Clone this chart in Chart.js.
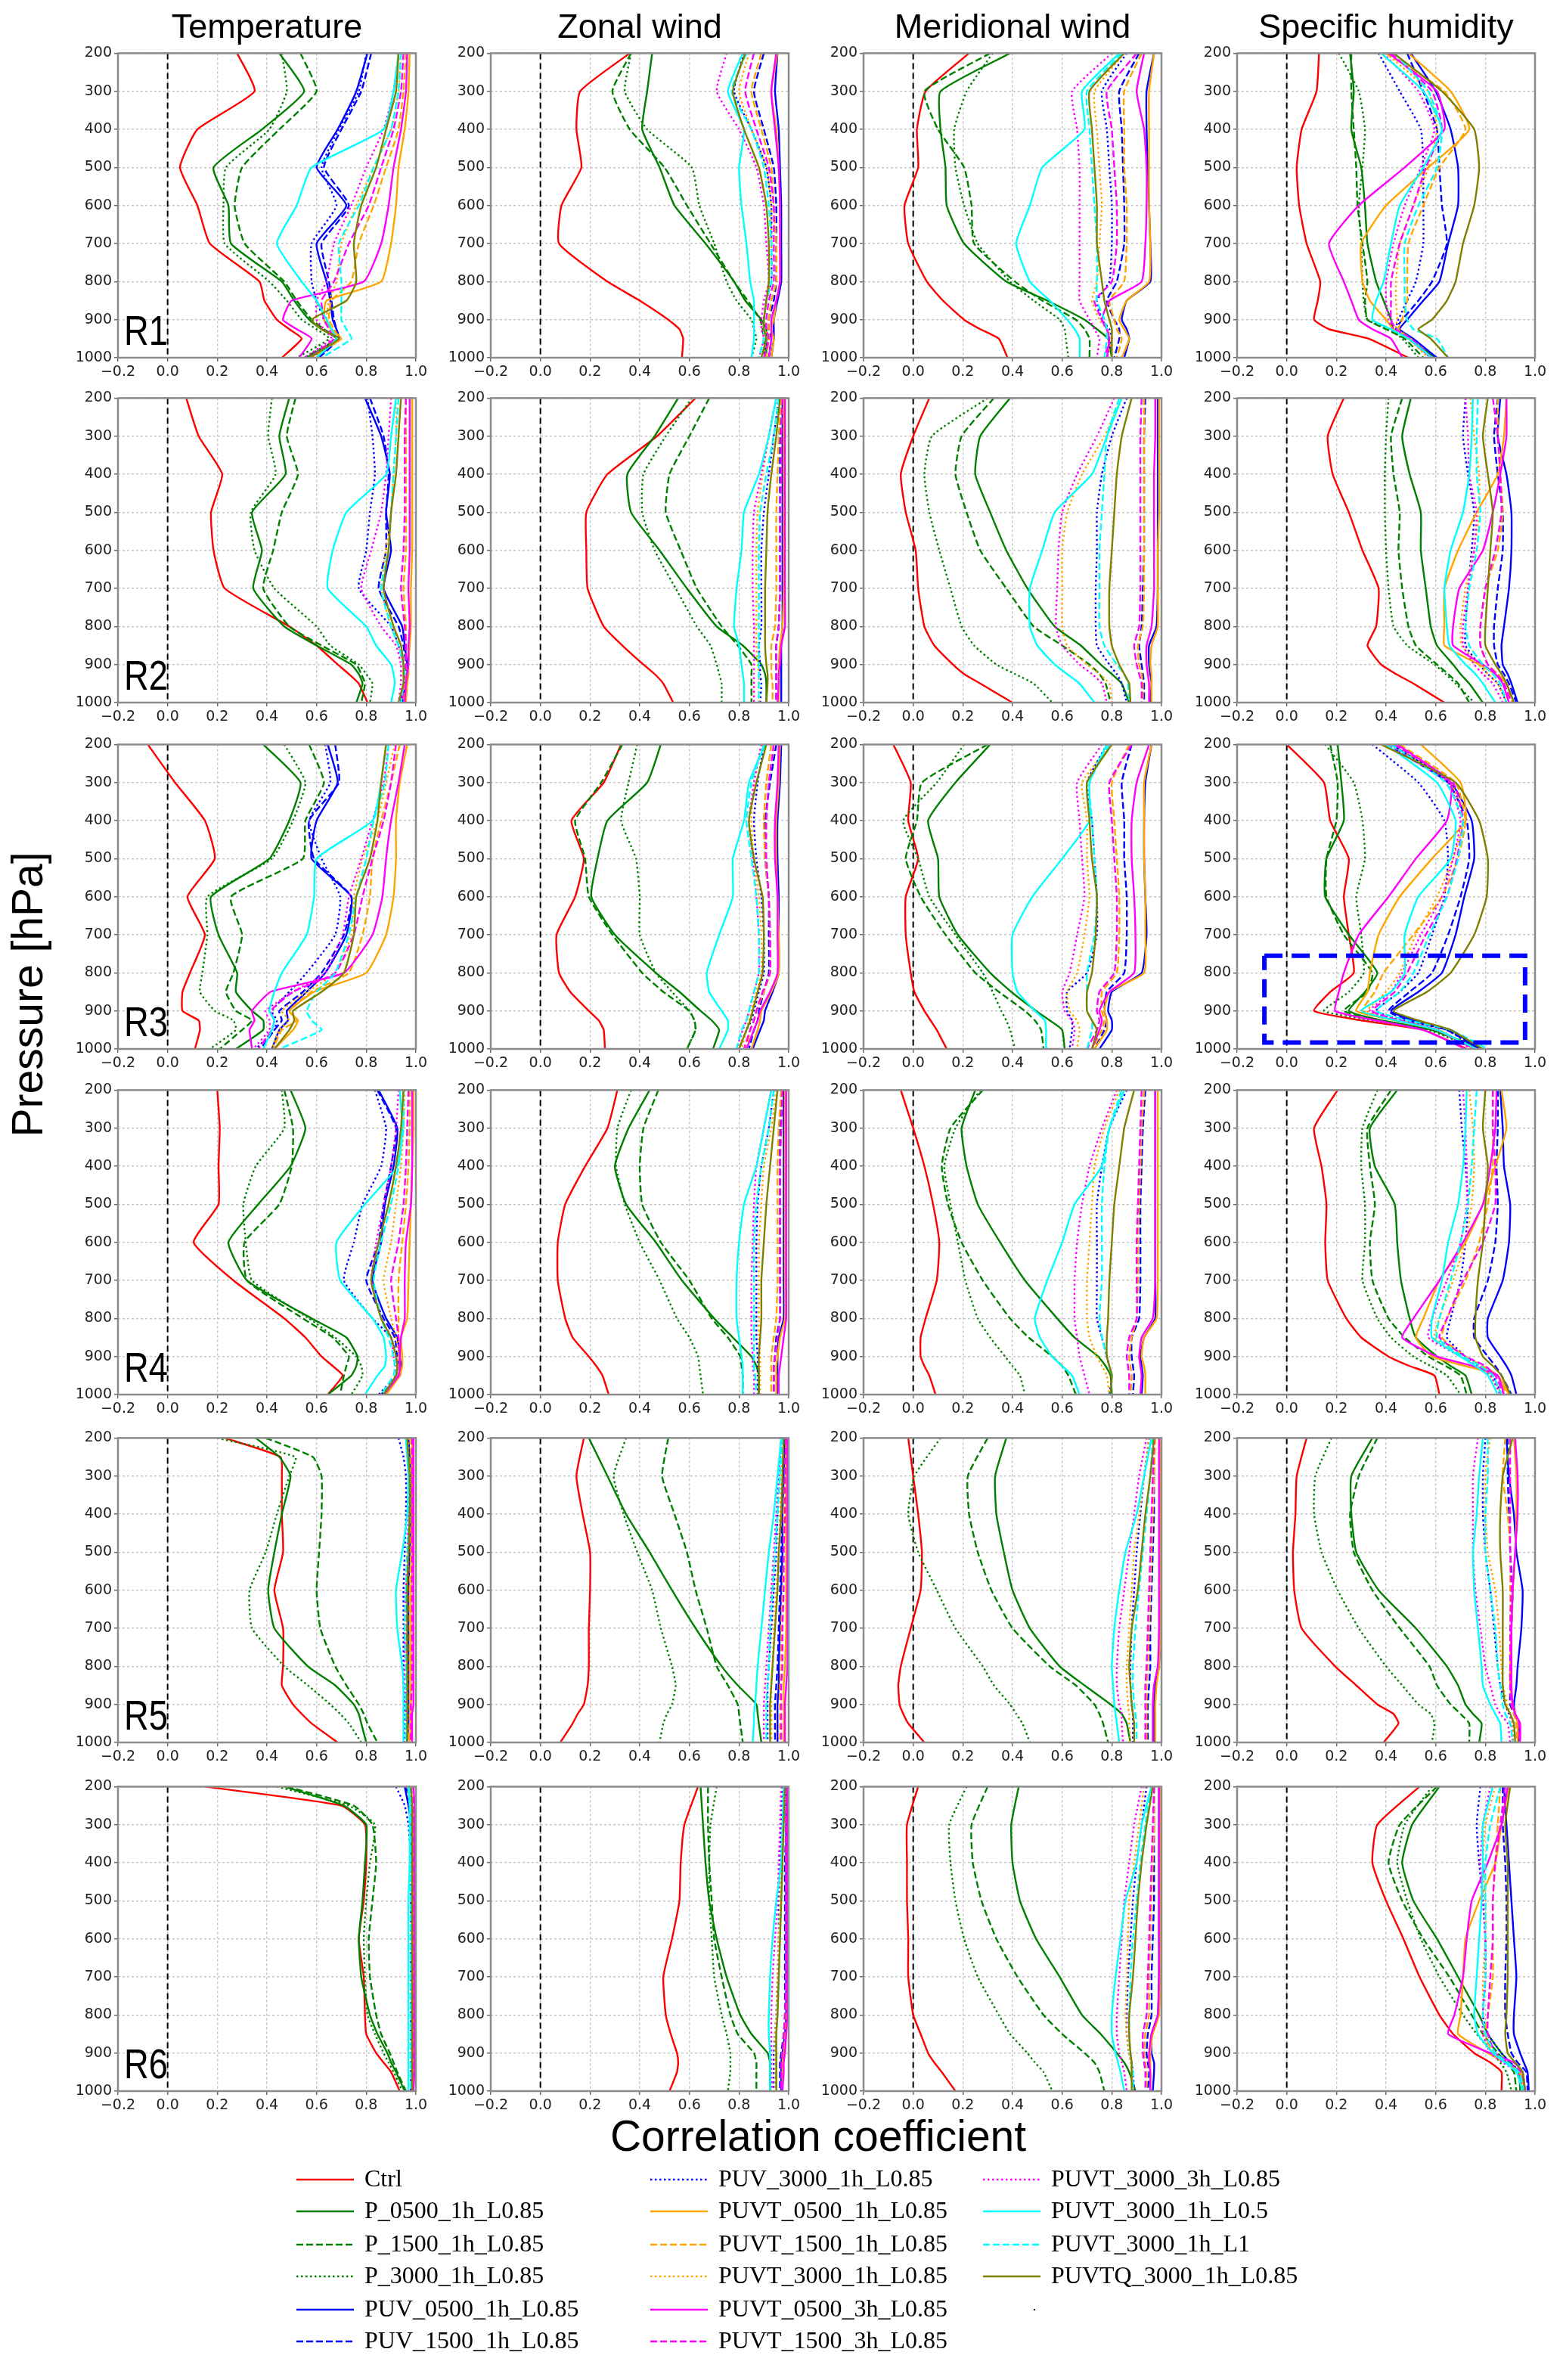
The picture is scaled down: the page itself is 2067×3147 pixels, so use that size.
<!DOCTYPE html>
<html><head><meta charset="utf-8">
<script src="https://cdn.jsdelivr.net/npm/chart.js@4.4.1/dist/chart.umd.min.js"></script>
<style>
html,body{margin:0;padding:0;background:#fff;}
#fig{position:relative;width:2067px;height:3147px;overflow:hidden;background:#fff;}
#fig canvas{position:absolute;}
</style></head><body><div id="fig"></div>
<script>
// ---------------- DATA ----------------
const levels = [200,300,400,500,600,700,800,850,900,925,950,1000];
const levelsWith250 = [200,250,300,400,500,600,700,800,850,900,925,950,1000];
const seriesNames = ['Ctrl','P_0500_1h_L0.85','P_1500_1h_L0.85','P_3000_1h_L0.85','PUV_0500_1h_L0.85','PUV_1500_1h_L0.85','PUV_3000_1h_L0.85','PUVT_0500_1h_L0.85','PUVT_1500_1h_L0.85','PUVT_3000_1h_L0.85','PUVT_0500_3h_L0.85','PUVT_1500_3h_L0.85','PUVT_3000_3h_L0.85','PUVT_3000_1h_L0.5','PUVT_3000_1h_L1','PUVTQ_3000_1h_L0.85'];
const variableTitles = ['Temperature','Zonal wind','Meridional wind','Specific humidity'];
const regionLabels = ['R1','R2','R3','R4','R5','R6'];
const xTickValues = [-0.2,0.0,0.2,0.4,0.6,0.8,1.0];
const yTickValues = [200,300,400,500,600,700,800,900,1000];
const zeroLineX = 0;
const zeroLineY = [200,1000];
const highlightBoxX = [-0.09,0.96,0.96,-0.09,-0.09];
const highlightBoxY = [755,755,983,983,755];

const R1_T = [
[0.28,0.35,0.12,0.05,0.12,0.17,0.37,0.39,0.44,0.49,0.54,0.46],
[0.45,0.55,0.38,0.185,0.245,0.255,0.46,0.51,0.57,0.62,0.68,0.56],
[0.535,0.6,0.45,0.30,0.27,0.31,0.47,0.52,0.58,0.63,0.68,0.55],
[0.46,0.48,0.41,0.235,0.225,0.23,0.41,0.48,0.54,0.6,0.65,0.52],
[0.805,0.76,0.685,0.6,0.72,0.6,0.64,0.655,0.665,0.68,0.69,0.6],
[0.82,0.78,0.7,0.63,0.73,0.62,0.65,0.66,0.67,0.68,0.69,0.61],
[0.8,0.77,0.69,0.62,0.68,0.58,0.58,0.6,0.63,0.66,0.68,0.58],
[0.975,0.97,0.955,0.93,0.92,0.9,0.86,0.64,0.63,0.66,0.7,0.57],
[0.96,0.95,0.93,0.88,0.83,0.77,0.74,0.66,0.65,0.67,0.69,0.58],
[0.94,0.93,0.9,0.83,0.76,0.7,0.68,0.65,0.64,0.66,0.68,0.57],
[0.965,0.96,0.94,0.91,0.89,0.86,0.79,0.5,0.465,0.52,0.58,0.53],
[0.95,0.94,0.91,0.86,0.81,0.73,0.67,0.62,0.63,0.65,0.67,0.57],
[0.93,0.91,0.87,0.8,0.74,0.67,0.64,0.6,0.6,0.63,0.66,0.55],
[0.93,0.91,0.87,0.58,0.52,0.44,0.54,0.6,0.64,0.66,0.68,0.6],
[0.94,0.93,0.9,0.83,0.77,0.69,0.7,0.7,0.7,0.72,0.74,0.62],
[0.93,0.92,0.88,0.84,0.78,0.75,0.76,0.72,0.58,0.62,0.69,0.57]];
const R1_U = [
[0.36,0.16,0.145,0.165,0.085,0.075,0.27,0.4,0.515,0.56,0.575,0.57],
[0.45,0.43,0.41,0.48,0.54,0.665,0.78,0.825,0.89,0.91,0.91,0.91],
[0.365,0.29,0.36,0.5,0.59,0.685,0.78,0.835,0.885,0.895,0.9,0.9],
[0.365,0.34,0.43,0.61,0.64,0.7,0.75,0.79,0.85,0.86,0.87,0.85],
[0.955,0.945,0.96,0.965,0.97,0.97,0.97,0.955,0.94,0.94,0.94,0.93],
[0.9,0.86,0.9,0.94,0.95,0.95,0.95,0.94,0.92,0.92,0.93,0.92],
[0.82,0.78,0.85,0.91,0.93,0.93,0.93,0.91,0.9,0.9,0.91,0.9],
[0.955,0.93,0.95,0.96,0.965,0.965,0.965,0.95,0.94,0.93,0.94,0.93],
[0.89,0.85,0.89,0.93,0.94,0.95,0.95,0.93,0.92,0.92,0.92,0.91],
[0.84,0.8,0.85,0.91,0.93,0.93,0.93,0.91,0.9,0.91,0.91,0.89],
[0.95,0.93,0.945,0.96,0.965,0.965,0.965,0.95,0.93,0.93,0.93,0.92],
[0.86,0.825,0.87,0.92,0.94,0.94,0.94,0.92,0.91,0.91,0.92,0.9],
[0.75,0.71,0.8,0.87,0.9,0.91,0.92,0.9,0.89,0.89,0.9,0.88],
[0.815,0.755,0.82,0.8,0.81,0.83,0.845,0.86,0.86,0.86,0.86,0.85],
[0.83,0.77,0.85,0.9,0.92,0.93,0.93,0.91,0.9,0.9,0.9,0.88],
[0.825,0.775,0.82,0.88,0.91,0.92,0.92,0.91,0.9,0.9,0.91,0.89]];
const R1_V = [
[0.225,0.05,0.015,0.02,-0.035,-0.02,0.055,0.12,0.205,0.27,0.345,0.38],
[0.39,0.11,0.11,0.13,0.135,0.205,0.375,0.54,0.69,0.74,0.785,0.8],
[0.31,0.045,0.1,0.205,0.235,0.245,0.41,0.52,0.655,0.69,0.71,0.71],
[0.32,0.215,0.165,0.17,0.205,0.26,0.39,0.485,0.59,0.61,0.615,0.625],
[0.97,0.94,0.94,0.945,0.95,0.955,0.955,0.86,0.84,0.86,0.87,0.85],
[0.91,0.83,0.84,0.845,0.85,0.85,0.82,0.78,0.81,0.83,0.83,0.81],
[0.86,0.76,0.78,0.79,0.8,0.8,0.79,0.74,0.76,0.79,0.8,0.78],
[0.97,0.95,0.95,0.95,0.95,0.955,0.95,0.86,0.83,0.85,0.87,0.84],
[0.92,0.85,0.85,0.85,0.86,0.86,0.85,0.79,0.81,0.82,0.84,0.82],
[0.85,0.73,0.74,0.75,0.76,0.75,0.74,0.72,0.75,0.78,0.8,0.78],
[0.93,0.9,0.93,0.94,0.94,0.935,0.92,0.79,0.76,0.78,0.79,0.78],
[0.9,0.78,0.8,0.81,0.82,0.82,0.8,0.73,0.76,0.78,0.79,0.77],
[0.8,0.64,0.66,0.67,0.67,0.67,0.67,0.67,0.71,0.73,0.75,0.74],
[0.83,0.68,0.69,0.52,0.47,0.415,0.47,0.55,0.62,0.65,0.67,0.67],
[0.84,0.7,0.71,0.72,0.73,0.74,0.74,0.74,0.77,0.78,0.78,0.77],
[0.85,0.71,0.72,0.73,0.74,0.74,0.76,0.77,0.79,0.8,0.8,0.8]];
const R1_Q = [
[0.13,0.12,0.06,0.04,0.05,0.08,0.135,0.125,0.11,0.17,0.33,0.49],
[0.255,0.27,0.26,0.3,0.315,0.325,0.36,0.39,0.42,0.43,0.49,0.6],
[0.26,0.26,0.27,0.28,0.285,0.305,0.325,0.315,0.325,0.4,0.475,0.55],
[0.21,0.29,0.315,0.305,0.29,0.3,0.305,0.31,0.325,0.41,0.465,0.53],
[0.5,0.6,0.66,0.69,0.69,0.65,0.615,0.55,0.485,0.455,0.51,0.605],
[0.485,0.55,0.605,0.615,0.625,0.645,0.585,0.53,0.465,0.44,0.5,0.585],
[0.37,0.455,0.54,0.55,0.55,0.55,0.52,0.485,0.45,0.44,0.5,0.58],
[0.49,0.66,0.735,0.57,0.4,0.3,0.305,0.335,0.4,0.43,0.49,0.585],
[0.4,0.635,0.72,0.615,0.55,0.49,0.485,0.485,0.465,0.45,0.5,0.585],
[0.4,0.57,0.605,0.57,0.51,0.455,0.44,0.44,0.445,0.44,0.49,0.57],
[0.41,0.605,0.635,0.475,0.29,0.17,0.23,0.26,0.29,0.345,0.42,0.465],
[0.42,0.585,0.625,0.56,0.51,0.455,0.42,0.42,0.42,0.44,0.5,0.585],
[0.39,0.53,0.595,0.54,0.475,0.43,0.4,0.4,0.41,0.43,0.49,0.58],
[0.38,0.55,0.625,0.55,0.455,0.42,0.39,0.36,0.345,0.42,0.49,0.585],
[0.435,0.57,0.625,0.605,0.53,0.475,0.475,0.475,0.485,0.51,0.605,0.65],
[0.43,0.625,0.755,0.775,0.755,0.71,0.68,0.645,0.585,0.53,0.58,0.65]];

const R2_T = [
[0.075,0.125,0.22,0.175,0.185,0.23,0.49,0.6,0.685,0.73,0.77,0.805],
[0.49,0.45,0.475,0.34,0.38,0.345,0.47,0.6,0.74,0.77,0.785,0.76],
[0.515,0.48,0.525,0.46,0.425,0.385,0.49,0.62,0.76,0.78,0.795,0.78],
[0.42,0.405,0.435,0.335,0.35,0.43,0.6,0.655,0.77,0.8,0.825,0.815],
[0.795,0.86,0.895,0.88,0.9,0.87,0.945,0.955,0.965,0.965,0.96,0.945],
[0.815,0.87,0.89,0.88,0.88,0.85,0.93,0.95,0.96,0.96,0.96,0.935],
[0.805,0.825,0.835,0.815,0.8,0.77,0.9,0.93,0.95,0.955,0.955,0.935],
[0.985,0.985,0.985,0.985,0.985,0.98,0.98,0.975,0.97,0.97,0.965,0.96],
[0.96,0.96,0.96,0.96,0.96,0.95,0.96,0.96,0.96,0.96,0.955,0.95],
[0.92,0.92,0.91,0.9,0.88,0.86,0.9,0.93,0.95,0.95,0.95,0.94],
[0.975,0.975,0.975,0.975,0.975,0.97,0.975,0.97,0.97,0.965,0.96,0.955],
[0.96,0.955,0.955,0.955,0.95,0.94,0.955,0.96,0.96,0.955,0.95,0.945],
[0.9,0.89,0.88,0.86,0.82,0.78,0.86,0.92,0.94,0.94,0.94,0.93],
[0.92,0.9,0.88,0.72,0.665,0.645,0.8,0.84,0.9,0.91,0.915,0.9],
[0.93,0.92,0.91,0.9,0.89,0.86,0.9,0.93,0.95,0.955,0.95,0.94],
[0.94,0.93,0.92,0.9,0.89,0.87,0.91,0.94,0.95,0.95,0.95,0.93]];
const R2_U = [
[0.625,0.47,0.27,0.185,0.185,0.19,0.255,0.33,0.415,0.46,0.495,0.535],
[0.555,0.46,0.35,0.365,0.48,0.59,0.71,0.815,0.89,0.905,0.91,0.91],
[0.68,0.6,0.52,0.505,0.565,0.63,0.73,0.795,0.85,0.85,0.85,0.85],
[0.61,0.505,0.415,0.41,0.46,0.545,0.63,0.685,0.71,0.72,0.73,0.73],
[0.975,0.975,0.975,0.975,0.975,0.975,0.975,0.97,0.97,0.97,0.97,0.97],
[0.97,0.965,0.965,0.965,0.965,0.965,0.96,0.95,0.95,0.95,0.95,0.95],
[0.96,0.94,0.92,0.9,0.89,0.89,0.89,0.88,0.885,0.885,0.89,0.885],
[0.98,0.98,0.98,0.98,0.98,0.98,0.975,0.965,0.96,0.96,0.96,0.96],
[0.97,0.96,0.955,0.95,0.95,0.95,0.945,0.93,0.93,0.93,0.935,0.935],
[0.95,0.92,0.895,0.875,0.87,0.87,0.87,0.87,0.875,0.88,0.88,0.88],
[0.985,0.985,0.985,0.985,0.985,0.985,0.985,0.97,0.965,0.96,0.96,0.955],
[0.975,0.97,0.97,0.965,0.965,0.965,0.96,0.95,0.95,0.95,0.95,0.95],
[0.95,0.92,0.89,0.86,0.855,0.855,0.86,0.86,0.86,0.86,0.86,0.86],
[0.95,0.92,0.88,0.82,0.81,0.79,0.78,0.8,0.81,0.815,0.82,0.82],
[0.96,0.94,0.91,0.885,0.88,0.88,0.88,0.88,0.88,0.88,0.88,0.88],
[0.965,0.95,0.93,0.915,0.91,0.905,0.905,0.905,0.91,0.915,0.915,0.91]];
const R2_V = [
[0.065,0.0,-0.05,-0.03,0.01,0.02,0.045,0.085,0.16,0.205,0.27,0.4],
[0.39,0.27,0.25,0.31,0.375,0.46,0.57,0.675,0.755,0.8,0.84,0.87],
[0.325,0.195,0.17,0.215,0.27,0.375,0.485,0.6,0.71,0.75,0.775,0.795],
[0.3,0.075,0.045,0.065,0.105,0.15,0.195,0.245,0.335,0.41,0.485,0.56],
[0.985,0.985,0.985,0.985,0.985,0.985,0.98,0.95,0.95,0.955,0.96,0.955],
[0.935,0.93,0.93,0.93,0.93,0.925,0.92,0.91,0.92,0.925,0.93,0.93],
[0.86,0.8,0.76,0.74,0.74,0.735,0.735,0.74,0.79,0.82,0.84,0.86],
[0.99,0.99,0.99,0.99,0.985,0.985,0.985,0.96,0.955,0.96,0.96,0.96],
[0.93,0.93,0.93,0.93,0.93,0.93,0.925,0.905,0.91,0.92,0.925,0.925],
[0.84,0.77,0.68,0.62,0.6,0.6,0.6,0.62,0.7,0.75,0.79,0.8],
[0.975,0.975,0.97,0.97,0.97,0.97,0.96,0.94,0.94,0.945,0.95,0.95],
[0.92,0.915,0.915,0.915,0.915,0.915,0.91,0.89,0.9,0.91,0.92,0.92],
[0.81,0.74,0.66,0.6,0.585,0.58,0.575,0.6,0.67,0.72,0.76,0.78],
[0.84,0.78,0.72,0.57,0.52,0.47,0.47,0.5,0.57,0.62,0.67,0.73],
[0.83,0.78,0.77,0.76,0.75,0.75,0.75,0.77,0.82,0.85,0.865,0.87],
[0.88,0.84,0.82,0.81,0.8,0.79,0.79,0.8,0.83,0.85,0.87,0.875]];
const R2_Q = [
[0.23,0.165,0.185,0.25,0.305,0.37,0.36,0.325,0.38,0.44,0.51,0.635],
[0.5,0.465,0.495,0.54,0.54,0.56,0.58,0.605,0.67,0.7,0.735,0.79],
[0.465,0.42,0.43,0.455,0.45,0.465,0.49,0.52,0.605,0.65,0.69,0.735],
[0.41,0.4,0.395,0.395,0.4,0.41,0.43,0.485,0.595,0.64,0.68,0.755],
[0.86,0.85,0.885,0.905,0.905,0.895,0.875,0.865,0.87,0.89,0.905,0.93],
[0.85,0.835,0.85,0.87,0.87,0.85,0.835,0.835,0.85,0.875,0.895,0.925],
[0.72,0.71,0.73,0.755,0.745,0.73,0.72,0.72,0.775,0.81,0.85,0.885],
[0.885,0.875,0.85,0.765,0.69,0.635,0.635,0.635,0.775,0.84,0.885,0.915],
[0.85,0.85,0.86,0.87,0.85,0.8,0.78,0.78,0.81,0.85,0.885,0.91],
[0.74,0.755,0.775,0.775,0.755,0.72,0.7,0.705,0.775,0.81,0.85,0.885],
[0.885,0.885,0.86,0.83,0.79,0.695,0.67,0.67,0.79,0.84,0.87,0.895],
[0.83,0.85,0.86,0.865,0.84,0.8,0.78,0.78,0.81,0.845,0.875,0.905],
[0.72,0.73,0.735,0.765,0.755,0.73,0.71,0.71,0.755,0.79,0.83,0.87],
[0.75,0.745,0.735,0.71,0.66,0.635,0.645,0.655,0.72,0.76,0.79,0.84],
[0.77,0.765,0.765,0.78,0.765,0.735,0.72,0.735,0.79,0.83,0.86,0.885],
[0.81,0.79,0.81,0.83,0.82,0.81,0.8,0.8,0.84,0.865,0.885,0.915]];

const R3_T = [
[-0.08,0.03,0.15,0.19,0.08,0.15,0.09,0.06,0.06,0.125,0.13,0.11],
[0.385,0.535,0.49,0.41,0.175,0.205,0.28,0.275,0.34,0.385,0.385,0.275],
[0.57,0.63,0.555,0.545,0.255,0.3,0.265,0.235,0.275,0.34,0.3,0.21],
[0.47,0.555,0.505,0.42,0.16,0.16,0.14,0.13,0.19,0.265,0.275,0.17],
[0.645,0.685,0.6,0.58,0.74,0.72,0.635,0.56,0.48,0.485,0.45,0.42],
[0.675,0.69,0.57,0.59,0.74,0.71,0.62,0.545,0.45,0.46,0.43,0.375],
[0.635,0.655,0.57,0.62,0.695,0.675,0.56,0.49,0.42,0.44,0.43,0.355],
[0.965,0.935,0.92,0.92,0.91,0.88,0.8,0.59,0.49,0.525,0.505,0.43],
[0.935,0.9,0.86,0.825,0.815,0.785,0.73,0.58,0.49,0.52,0.46,0.425],
[0.915,0.88,0.845,0.785,0.75,0.74,0.675,0.56,0.46,0.49,0.45,0.42],
[0.955,0.93,0.9,0.88,0.865,0.825,0.71,0.415,0.34,0.35,0.33,0.34],
[0.92,0.9,0.87,0.825,0.785,0.75,0.675,0.505,0.415,0.43,0.42,0.365],
[0.89,0.87,0.825,0.78,0.73,0.705,0.635,0.505,0.395,0.41,0.41,0.345],
[0.88,0.86,0.825,0.6,0.59,0.56,0.46,0.43,0.41,0.43,0.42,0.385],
[0.89,0.875,0.83,0.8,0.76,0.73,0.675,0.6,0.56,0.58,0.62,0.45],
[0.88,0.86,0.845,0.815,0.76,0.75,0.71,0.62,0.505,0.51,0.49,0.43]];
const R3_U = [
[0.325,0.255,0.125,0.175,0.14,0.065,0.075,0.12,0.195,0.235,0.255,0.26],
[0.485,0.43,0.27,0.23,0.205,0.3,0.465,0.56,0.645,0.69,0.72,0.695],
[0.33,0.245,0.14,0.18,0.195,0.29,0.41,0.495,0.6,0.62,0.625,0.59],
[0.39,0.355,0.325,0.385,0.4,0.4,0.465,0.53,0.6,0.62,0.625,0.59],
[0.97,0.965,0.955,0.955,0.96,0.96,0.96,0.935,0.905,0.9,0.885,0.855],
[0.95,0.925,0.905,0.905,0.92,0.92,0.92,0.9,0.88,0.875,0.86,0.84],
[0.9,0.875,0.86,0.87,0.89,0.9,0.9,0.88,0.86,0.85,0.83,0.8],
[0.965,0.96,0.95,0.95,0.955,0.96,0.96,0.93,0.89,0.885,0.875,0.85],
[0.93,0.91,0.9,0.905,0.92,0.925,0.925,0.9,0.87,0.86,0.845,0.83],
[0.89,0.86,0.85,0.86,0.88,0.89,0.89,0.87,0.85,0.84,0.83,0.81],
[0.96,0.955,0.945,0.945,0.955,0.955,0.955,0.925,0.885,0.875,0.86,0.83],
[0.94,0.92,0.91,0.91,0.92,0.925,0.925,0.895,0.87,0.86,0.845,0.82],
[0.89,0.86,0.84,0.855,0.87,0.88,0.88,0.86,0.84,0.83,0.815,0.79],
[0.905,0.84,0.82,0.775,0.775,0.72,0.67,0.68,0.73,0.755,0.755,0.72],
[0.9,0.85,0.83,0.85,0.87,0.88,0.88,0.86,0.84,0.83,0.81,0.79],
[0.91,0.87,0.84,0.86,0.895,0.9,0.895,0.875,0.855,0.845,0.83,0.8]];
const R3_V = [
[-0.08,-0.01,-0.02,0.02,-0.03,-0.03,-0.01,0.005,0.045,0.07,0.095,0.135],
[0.31,0.17,0.06,0.1,0.105,0.18,0.31,0.395,0.495,0.55,0.6,0.61],
[0.3,0.035,0.015,-0.03,0.03,0.13,0.25,0.345,0.45,0.49,0.515,0.525],
[0.205,0.095,-0.04,0.02,0.065,0.17,0.28,0.32,0.355,0.375,0.39,0.41],
[0.96,0.935,0.93,0.93,0.935,0.94,0.92,0.8,0.785,0.8,0.8,0.75],
[0.88,0.84,0.85,0.85,0.86,0.86,0.85,0.78,0.77,0.78,0.77,0.73],
[0.78,0.7,0.72,0.73,0.74,0.74,0.7,0.62,0.62,0.64,0.64,0.63],
[0.96,0.93,0.93,0.93,0.935,0.935,0.93,0.79,0.77,0.78,0.78,0.73],
[0.87,0.8,0.81,0.82,0.83,0.83,0.82,0.76,0.76,0.77,0.76,0.72],
[0.8,0.68,0.7,0.7,0.71,0.69,0.66,0.62,0.63,0.66,0.67,0.66],
[0.95,0.9,0.88,0.88,0.89,0.895,0.89,0.79,0.75,0.76,0.75,0.72],
[0.88,0.79,0.8,0.81,0.82,0.82,0.81,0.75,0.74,0.75,0.74,0.7],
[0.76,0.66,0.67,0.68,0.69,0.66,0.63,0.6,0.61,0.64,0.65,0.64],
[0.78,0.71,0.71,0.6,0.48,0.4,0.4,0.42,0.49,0.53,0.535,0.535],
[0.79,0.71,0.72,0.73,0.74,0.73,0.7,0.7,0.7,0.72,0.72,0.7],
[0.8,0.7,0.71,0.72,0.74,0.735,0.72,0.7,0.7,0.72,0.74,0.72]];
const R3_Q = [
[0.0,0.15,0.175,0.25,0.23,0.25,0.27,0.175,0.11,0.3,0.55,0.725],
[0.205,0.22,0.23,0.16,0.155,0.25,0.365,0.315,0.25,0.38,0.585,0.79],
[0.175,0.205,0.2,0.16,0.16,0.23,0.345,0.325,0.23,0.38,0.585,0.775],
[0.155,0.27,0.305,0.315,0.28,0.3,0.31,0.25,0.15,0.345,0.57,0.765],
[0.42,0.66,0.745,0.755,0.715,0.68,0.625,0.53,0.42,0.51,0.66,0.775],
[0.4,0.65,0.725,0.735,0.7,0.65,0.585,0.495,0.41,0.49,0.645,0.775],
[0.345,0.53,0.635,0.65,0.635,0.585,0.53,0.455,0.36,0.47,0.645,0.765],
[0.54,0.7,0.72,0.585,0.455,0.37,0.335,0.325,0.28,0.435,0.605,0.755],
[0.455,0.68,0.72,0.69,0.625,0.51,0.39,0.355,0.305,0.435,0.605,0.755],
[0.42,0.66,0.71,0.67,0.605,0.52,0.455,0.4,0.325,0.455,0.615,0.755],
[0.445,0.66,0.645,0.52,0.41,0.29,0.23,0.21,0.195,0.36,0.55,0.72],
[0.435,0.67,0.71,0.685,0.645,0.56,0.485,0.435,0.345,0.455,0.605,0.755],
[0.4,0.65,0.7,0.67,0.625,0.54,0.465,0.42,0.335,0.455,0.605,0.745],
[0.4,0.605,0.68,0.66,0.53,0.475,0.475,0.42,0.3,0.44,0.605,0.765],
[0.42,0.64,0.71,0.69,0.645,0.575,0.51,0.455,0.36,0.49,0.66,0.81],
[0.38,0.68,0.775,0.81,0.805,0.755,0.66,0.565,0.43,0.53,0.66,0.79]];

const R4_T = [
[0.2,0.21,0.205,0.205,0.105,0.265,0.47,0.555,0.62,0.665,0.705,0.645],
[0.495,0.555,0.495,0.365,0.245,0.32,0.58,0.72,0.765,0.76,0.74,0.645],
[0.47,0.505,0.5,0.45,0.31,0.32,0.545,0.665,0.73,0.72,0.71,0.695],
[0.46,0.47,0.355,0.305,0.315,0.34,0.57,0.675,0.76,0.78,0.785,0.74],
[0.85,0.925,0.91,0.875,0.86,0.825,0.88,0.925,0.935,0.94,0.935,0.87],
[0.845,0.92,0.9,0.87,0.85,0.8,0.87,0.915,0.925,0.935,0.935,0.86],
[0.835,0.88,0.86,0.785,0.75,0.71,0.825,0.9,0.92,0.925,0.92,0.85],
[0.99,0.99,0.985,0.98,0.975,0.97,0.965,0.94,0.945,0.945,0.935,0.88],
[0.975,0.975,0.97,0.96,0.945,0.93,0.93,0.93,0.935,0.935,0.93,0.88],
[0.955,0.95,0.94,0.92,0.9,0.87,0.9,0.92,0.93,0.93,0.925,0.87],
[0.985,0.985,0.985,0.98,0.96,0.955,0.955,0.94,0.935,0.935,0.93,0.87],
[0.97,0.965,0.96,0.95,0.93,0.9,0.92,0.93,0.935,0.935,0.93,0.87],
[0.93,0.92,0.9,0.87,0.84,0.82,0.86,0.9,0.91,0.92,0.92,0.87],
[0.935,0.945,0.925,0.795,0.68,0.695,0.825,0.87,0.88,0.875,0.845,0.795],
[0.95,0.95,0.93,0.9,0.86,0.83,0.86,0.89,0.91,0.915,0.91,0.86],
[0.95,0.94,0.92,0.89,0.85,0.82,0.86,0.9,0.92,0.925,0.92,0.87]];
const R4_U = [
[0.31,0.27,0.18,0.1,0.07,0.07,0.1,0.13,0.195,0.225,0.25,0.275],
[0.44,0.355,0.3,0.345,0.465,0.57,0.7,0.775,0.85,0.87,0.88,0.88],
[0.475,0.415,0.4,0.41,0.485,0.6,0.69,0.755,0.805,0.81,0.815,0.815],
[0.365,0.31,0.305,0.34,0.4,0.48,0.55,0.6,0.635,0.64,0.645,0.655],
[0.98,0.98,0.98,0.98,0.98,0.98,0.98,0.96,0.955,0.955,0.955,0.955],
[0.97,0.965,0.965,0.965,0.965,0.965,0.965,0.95,0.945,0.94,0.94,0.94],
[0.94,0.92,0.89,0.875,0.87,0.87,0.87,0.87,0.875,0.875,0.875,0.875],
[0.985,0.985,0.985,0.985,0.985,0.985,0.985,0.965,0.955,0.95,0.95,0.95],
[0.97,0.96,0.955,0.955,0.955,0.955,0.95,0.94,0.93,0.93,0.93,0.93],
[0.95,0.93,0.9,0.89,0.88,0.88,0.88,0.88,0.885,0.885,0.885,0.885],
[0.99,0.99,0.99,0.99,0.99,0.99,0.99,0.98,0.97,0.965,0.96,0.96],
[0.975,0.97,0.965,0.965,0.965,0.965,0.965,0.955,0.945,0.94,0.94,0.94],
[0.93,0.9,0.87,0.86,0.855,0.85,0.85,0.85,0.855,0.855,0.86,0.86],
[0.93,0.9,0.87,0.82,0.8,0.79,0.79,0.8,0.81,0.815,0.815,0.815],
[0.94,0.92,0.89,0.87,0.86,0.86,0.86,0.86,0.86,0.86,0.865,0.87],
[0.955,0.94,0.925,0.91,0.9,0.89,0.89,0.885,0.88,0.88,0.88,0.88]];
const R4_V = [
[-0.05,0.0,0.045,0.08,0.105,0.095,0.05,0.03,0.03,0.045,0.065,0.09],
[0.25,0.195,0.215,0.26,0.35,0.45,0.58,0.65,0.745,0.775,0.795,0.8],
[0.28,0.15,0.115,0.14,0.195,0.28,0.39,0.465,0.56,0.6,0.625,0.655],
[0.27,0.17,0.125,0.15,0.18,0.21,0.26,0.31,0.37,0.4,0.43,0.45],
[0.975,0.975,0.975,0.975,0.975,0.975,0.975,0.93,0.915,0.92,0.925,0.92],
[0.935,0.925,0.92,0.915,0.915,0.915,0.91,0.88,0.88,0.885,0.89,0.885],
[0.86,0.79,0.76,0.74,0.74,0.74,0.74,0.76,0.78,0.79,0.8,0.79],
[0.985,0.985,0.985,0.985,0.985,0.985,0.98,0.93,0.92,0.93,0.935,0.935],
[0.93,0.92,0.915,0.91,0.905,0.905,0.9,0.88,0.87,0.875,0.88,0.875],
[0.83,0.77,0.73,0.72,0.71,0.7,0.7,0.71,0.74,0.76,0.78,0.79],
[0.975,0.975,0.975,0.975,0.975,0.975,0.965,0.92,0.91,0.915,0.92,0.915],
[0.92,0.915,0.91,0.905,0.9,0.9,0.9,0.87,0.86,0.865,0.87,0.87],
[0.82,0.76,0.71,0.68,0.66,0.65,0.65,0.66,0.67,0.68,0.69,0.71],
[0.85,0.79,0.76,0.65,0.6,0.54,0.49,0.51,0.56,0.6,0.64,0.67],
[0.84,0.79,0.77,0.76,0.76,0.76,0.75,0.76,0.78,0.79,0.8,0.795],
[0.89,0.85,0.83,0.81,0.8,0.79,0.785,0.78,0.78,0.79,0.8,0.795]];
const R4_Q = [
[0.205,0.11,0.14,0.16,0.155,0.165,0.24,0.3,0.41,0.495,0.595,0.615],
[0.445,0.335,0.355,0.435,0.445,0.46,0.495,0.52,0.605,0.66,0.72,0.745],
[0.42,0.325,0.335,0.355,0.335,0.345,0.41,0.475,0.57,0.64,0.7,0.725],
[0.365,0.305,0.3,0.315,0.315,0.305,0.365,0.42,0.51,0.58,0.645,0.7],
[0.86,0.87,0.875,0.9,0.895,0.87,0.81,0.81,0.86,0.885,0.905,0.925],
[0.85,0.85,0.845,0.85,0.84,0.81,0.755,0.755,0.81,0.84,0.865,0.905],
[0.695,0.705,0.72,0.73,0.72,0.7,0.66,0.645,0.72,0.78,0.83,0.865],
[0.865,0.885,0.84,0.79,0.72,0.615,0.55,0.52,0.585,0.72,0.85,0.895],
[0.83,0.83,0.83,0.81,0.775,0.72,0.645,0.625,0.72,0.79,0.85,0.885],
[0.735,0.75,0.755,0.745,0.72,0.67,0.615,0.595,0.7,0.77,0.82,0.865],
[0.845,0.84,0.82,0.79,0.71,0.615,0.51,0.465,0.605,0.75,0.85,0.875],
[0.83,0.83,0.84,0.84,0.79,0.71,0.645,0.615,0.72,0.8,0.84,0.875],
[0.71,0.72,0.725,0.725,0.7,0.645,0.585,0.57,0.7,0.77,0.82,0.86],
[0.725,0.72,0.71,0.69,0.65,0.625,0.585,0.585,0.7,0.76,0.81,0.85],
[0.765,0.755,0.745,0.73,0.7,0.66,0.615,0.605,0.71,0.78,0.83,0.865],
[0.8,0.79,0.81,0.8,0.79,0.77,0.76,0.76,0.79,0.83,0.865,0.9]];

const R5_T = [
[0.23,0.455,0.46,0.46,0.465,0.43,0.465,0.465,0.46,0.505,0.54,0.58,0.685],
[0.355,0.45,0.495,0.46,0.43,0.405,0.43,0.565,0.675,0.75,0.77,0.78,0.8],
[0.395,0.585,0.62,0.62,0.61,0.6,0.615,0.675,0.72,0.77,0.79,0.805,0.845],
[0.2,0.515,0.49,0.44,0.395,0.33,0.34,0.47,0.565,0.655,0.695,0.73,0.78],
[0.97,0.975,0.98,0.98,0.975,0.97,0.97,0.97,0.97,0.97,0.97,0.97,0.965],
[0.96,0.97,0.975,0.975,0.97,0.965,0.965,0.965,0.965,0.965,0.965,0.965,0.96],
[0.93,0.95,0.96,0.96,0.955,0.95,0.95,0.95,0.95,0.955,0.955,0.955,0.955],
[0.985,0.985,0.985,0.985,0.985,0.98,0.98,0.98,0.98,0.98,0.98,0.98,0.975],
[0.98,0.98,0.98,0.98,0.98,0.975,0.975,0.975,0.975,0.975,0.975,0.975,0.97],
[0.97,0.97,0.975,0.975,0.97,0.965,0.96,0.965,0.965,0.965,0.965,0.965,0.965],
[0.99,0.99,0.99,0.99,0.99,0.99,0.99,0.99,0.99,0.99,0.985,0.985,0.985],
[0.985,0.985,0.985,0.985,0.985,0.985,0.985,0.985,0.985,0.98,0.98,0.98,0.98],
[0.96,0.965,0.97,0.97,0.965,0.96,0.955,0.955,0.955,0.96,0.96,0.96,0.96],
[0.96,0.965,0.97,0.965,0.945,0.92,0.925,0.945,0.95,0.95,0.95,0.95,0.95],
[0.96,0.97,0.975,0.975,0.965,0.96,0.955,0.96,0.96,0.96,0.96,0.96,0.96],
[0.965,0.97,0.975,0.975,0.97,0.965,0.965,0.965,0.965,0.965,0.965,0.965,0.965]];
const R5_U = [
[0.175,0.145,0.17,0.2,0.2,0.195,0.195,0.19,0.175,0.15,0.13,0.08],
[0.195,0.27,0.345,0.44,0.53,0.625,0.73,0.795,0.87,0.875,0.88,0.89],
[0.515,0.49,0.54,0.59,0.625,0.67,0.71,0.755,0.795,0.8,0.805,0.815],
[0.345,0.295,0.335,0.39,0.45,0.485,0.53,0.545,0.53,0.51,0.495,0.48],
[0.985,0.98,0.975,0.975,0.97,0.965,0.96,0.96,0.955,0.955,0.955,0.955],
[0.985,0.98,0.975,0.97,0.965,0.96,0.955,0.95,0.945,0.945,0.945,0.945],
[0.97,0.96,0.955,0.95,0.94,0.93,0.92,0.915,0.915,0.915,0.915,0.915],
[0.99,0.99,0.99,0.99,0.99,0.99,0.985,0.98,0.98,0.98,0.98,0.98],
[0.99,0.985,0.98,0.98,0.975,0.97,0.97,0.965,0.965,0.965,0.965,0.965],
[0.98,0.97,0.965,0.96,0.95,0.94,0.935,0.93,0.93,0.93,0.93,0.93],
[0.995,0.995,0.995,0.995,0.995,0.995,0.995,0.99,0.985,0.985,0.985,0.985],
[0.99,0.985,0.985,0.98,0.98,0.975,0.975,0.97,0.97,0.97,0.97,0.97],
[0.97,0.96,0.95,0.94,0.93,0.92,0.91,0.905,0.9,0.9,0.9,0.9],
[0.97,0.955,0.94,0.92,0.905,0.89,0.875,0.87,0.865,0.86,0.86,0.855],
[0.975,0.965,0.955,0.945,0.935,0.925,0.92,0.915,0.91,0.91,0.91,0.91],
[0.98,0.975,0.97,0.96,0.955,0.945,0.935,0.93,0.925,0.925,0.925,0.925]];
const R5_V = [
[-0.02,0.0,0.02,0.035,0.03,-0.01,-0.05,-0.06,-0.055,-0.04,-0.02,0.045],
[0.375,0.33,0.335,0.365,0.4,0.47,0.59,0.69,0.795,0.84,0.86,0.875],
[0.3,0.22,0.225,0.26,0.315,0.4,0.55,0.655,0.73,0.75,0.765,0.785],
[0.11,0.005,-0.02,0.02,0.095,0.17,0.28,0.325,0.39,0.415,0.44,0.47],
[0.995,0.995,0.995,0.995,0.995,0.995,0.99,0.975,0.97,0.97,0.97,0.97],
[0.97,0.97,0.97,0.965,0.96,0.955,0.955,0.95,0.945,0.945,0.945,0.945],
[0.95,0.93,0.915,0.9,0.89,0.88,0.875,0.875,0.88,0.885,0.885,0.885],
[0.995,0.995,0.995,0.995,0.995,0.995,0.99,0.98,0.975,0.975,0.975,0.975],
[0.975,0.97,0.965,0.96,0.955,0.95,0.945,0.94,0.94,0.94,0.94,0.94],
[0.95,0.93,0.91,0.89,0.88,0.87,0.86,0.86,0.865,0.87,0.87,0.875],
[0.99,0.99,0.99,0.99,0.99,0.99,0.985,0.97,0.965,0.965,0.965,0.965],
[0.97,0.965,0.96,0.955,0.95,0.945,0.94,0.935,0.935,0.935,0.935,0.935],
[0.94,0.91,0.89,0.87,0.85,0.83,0.82,0.82,0.83,0.84,0.84,0.845],
[0.96,0.93,0.9,0.855,0.83,0.81,0.8,0.805,0.81,0.815,0.82,0.83],
[0.965,0.955,0.94,0.925,0.91,0.895,0.885,0.885,0.89,0.895,0.9,0.9],
[0.97,0.955,0.935,0.92,0.905,0.88,0.87,0.875,0.88,0.885,0.89,0.89]];
const R5_Q = [
[0.08,0.04,0.035,0.025,0.03,0.06,0.195,0.28,0.365,0.43,0.45,0.39],
[0.345,0.26,0.26,0.28,0.37,0.52,0.645,0.69,0.72,0.75,0.785,0.775],
[0.365,0.29,0.255,0.27,0.345,0.455,0.575,0.605,0.66,0.7,0.735,0.735],
[0.18,0.115,0.11,0.14,0.205,0.29,0.4,0.465,0.53,0.58,0.595,0.585],
[0.885,0.895,0.915,0.925,0.95,0.945,0.93,0.925,0.915,0.92,0.935,0.935],
[0.89,0.89,0.895,0.9,0.91,0.905,0.9,0.9,0.9,0.915,0.93,0.93],
[0.8,0.79,0.79,0.8,0.82,0.835,0.85,0.86,0.88,0.895,0.91,0.91],
[0.915,0.925,0.925,0.92,0.91,0.905,0.9,0.9,0.91,0.92,0.93,0.93],
[0.88,0.87,0.89,0.9,0.9,0.9,0.9,0.9,0.905,0.915,0.925,0.925],
[0.82,0.8,0.8,0.81,0.84,0.855,0.865,0.87,0.89,0.9,0.91,0.91],
[0.92,0.93,0.93,0.92,0.91,0.905,0.905,0.905,0.91,0.92,0.94,0.94],
[0.9,0.9,0.9,0.9,0.905,0.9,0.9,0.9,0.905,0.92,0.935,0.935],
[0.77,0.75,0.75,0.75,0.76,0.78,0.8,0.82,0.84,0.86,0.89,0.9],
[0.79,0.775,0.765,0.75,0.755,0.77,0.785,0.79,0.82,0.84,0.86,0.865],
[0.81,0.81,0.8,0.8,0.82,0.84,0.85,0.86,0.87,0.88,0.9,0.91],
[0.91,0.87,0.86,0.86,0.87,0.87,0.87,0.87,0.88,0.9,0.915,0.92]];

const R6_T = [
[0.15,0.70,0.795,0.8,0.79,0.77,0.79,0.795,0.8,0.84,0.87,0.9,0.935],
[0.47,0.71,0.8,0.795,0.785,0.77,0.78,0.815,0.845,0.885,0.9,0.92,0.955],
[0.48,0.75,0.825,0.84,0.825,0.81,0.815,0.84,0.86,0.895,0.91,0.925,0.96],
[0.44,0.73,0.835,0.815,0.8,0.79,0.795,0.805,0.835,0.87,0.89,0.91,0.945],
[0.955,0.97,0.98,0.985,0.985,0.985,0.985,0.985,0.985,0.985,0.985,0.985,0.985],
[0.96,0.975,0.98,0.985,0.985,0.985,0.985,0.985,0.985,0.985,0.985,0.985,0.985],
[0.92,0.955,0.97,0.98,0.98,0.98,0.98,0.98,0.98,0.98,0.98,0.98,0.98],
[0.98,0.985,0.99,0.99,0.99,0.99,0.99,0.99,0.99,0.99,0.99,0.99,0.99],
[0.975,0.98,0.985,0.99,0.99,0.99,0.99,0.99,0.99,0.99,0.99,0.99,0.99],
[0.965,0.975,0.98,0.985,0.985,0.985,0.985,0.985,0.985,0.985,0.985,0.985,0.985],
[0.99,0.995,0.995,0.995,0.995,0.995,0.995,0.995,0.995,0.995,0.995,0.995,0.99],
[0.99,0.99,0.99,0.99,0.99,0.99,0.99,0.99,0.99,0.99,0.99,0.99,0.99],
[0.97,0.98,0.98,0.985,0.985,0.985,0.985,0.985,0.985,0.985,0.985,0.985,0.985],
[0.97,0.975,0.975,0.975,0.97,0.97,0.97,0.97,0.97,0.97,0.97,0.97,0.97],
[0.975,0.98,0.98,0.98,0.98,0.98,0.98,0.98,0.98,0.98,0.98,0.98,0.98],
[0.98,0.985,0.985,0.985,0.985,0.985,0.985,0.985,0.985,0.985,0.985,0.985,0.985]];
const R6_U = [
[0.635,0.58,0.565,0.56,0.53,0.495,0.505,0.525,0.55,0.555,0.55,0.52],
[0.645,0.655,0.665,0.68,0.71,0.75,0.805,0.85,0.915,0.925,0.925,0.925],
[0.675,0.675,0.68,0.69,0.7,0.73,0.765,0.795,0.86,0.87,0.87,0.87],
[0.71,0.685,0.68,0.68,0.69,0.7,0.73,0.75,0.765,0.765,0.765,0.755],
[0.99,0.99,0.99,0.99,0.99,0.99,0.99,0.985,0.975,0.97,0.97,0.97],
[0.99,0.99,0.985,0.985,0.985,0.985,0.985,0.98,0.97,0.965,0.965,0.965],
[0.975,0.97,0.965,0.96,0.96,0.955,0.95,0.945,0.94,0.94,0.94,0.94],
[0.995,0.995,0.995,0.995,0.995,0.995,0.995,0.99,0.98,0.975,0.975,0.975],
[0.99,0.99,0.99,0.99,0.99,0.99,0.99,0.985,0.975,0.97,0.97,0.97],
[0.98,0.975,0.97,0.965,0.96,0.955,0.95,0.945,0.945,0.945,0.945,0.945],
[0.995,0.995,0.995,0.995,0.995,0.995,0.995,0.99,0.985,0.98,0.98,0.975],
[0.99,0.99,0.99,0.99,0.99,0.99,0.985,0.98,0.975,0.97,0.97,0.97],
[0.97,0.965,0.96,0.955,0.945,0.935,0.93,0.93,0.93,0.93,0.93,0.935],
[0.98,0.975,0.97,0.95,0.935,0.925,0.92,0.92,0.925,0.925,0.925,0.925],
[0.985,0.98,0.975,0.97,0.965,0.96,0.955,0.95,0.95,0.95,0.95,0.95],
[0.985,0.98,0.975,0.97,0.965,0.96,0.955,0.95,0.95,0.95,0.95,0.95]];
const R6_V = [
[0.02,-0.025,-0.025,-0.025,-0.02,-0.02,0.0,0.03,0.06,0.085,0.115,0.17],
[0.425,0.395,0.4,0.43,0.495,0.59,0.68,0.755,0.82,0.85,0.87,0.895],
[0.3,0.235,0.24,0.275,0.335,0.42,0.525,0.6,0.69,0.73,0.75,0.77],
[0.215,0.145,0.15,0.17,0.205,0.26,0.345,0.39,0.46,0.49,0.525,0.56],
[0.99,0.99,0.99,0.99,0.99,0.99,0.985,0.96,0.96,0.97,0.97,0.965],
[0.97,0.97,0.97,0.97,0.965,0.96,0.96,0.945,0.94,0.945,0.95,0.945],
[0.94,0.92,0.9,0.885,0.875,0.865,0.86,0.86,0.87,0.88,0.885,0.89],
[0.995,0.995,0.995,0.995,0.995,0.995,0.99,0.965,0.955,0.955,0.955,0.955],
[0.97,0.97,0.965,0.96,0.955,0.95,0.95,0.935,0.93,0.935,0.94,0.94],
[0.93,0.91,0.89,0.87,0.865,0.86,0.855,0.86,0.87,0.875,0.88,0.885],
[0.99,0.99,0.99,0.99,0.99,0.99,0.985,0.96,0.95,0.95,0.955,0.955],
[0.97,0.965,0.96,0.955,0.95,0.945,0.94,0.925,0.925,0.93,0.935,0.935],
[0.92,0.89,0.87,0.85,0.84,0.83,0.82,0.82,0.83,0.84,0.85,0.86],
[0.96,0.92,0.9,0.855,0.835,0.815,0.8,0.8,0.815,0.825,0.835,0.85],
[0.96,0.935,0.915,0.9,0.885,0.875,0.87,0.87,0.875,0.88,0.885,0.885],
[0.965,0.94,0.92,0.905,0.895,0.885,0.87,0.87,0.875,0.88,0.88,0.88]];
const R6_Q = [
[0.535,0.365,0.345,0.4,0.47,0.535,0.615,0.67,0.755,0.82,0.865,0.865],
[0.615,0.505,0.465,0.51,0.605,0.69,0.775,0.81,0.865,0.9,0.935,0.94],
[0.605,0.455,0.41,0.465,0.55,0.655,0.745,0.79,0.85,0.885,0.915,0.925],
[0.585,0.475,0.445,0.485,0.54,0.615,0.71,0.765,0.83,0.86,0.885,0.905],
[0.875,0.885,0.895,0.905,0.915,0.925,0.915,0.915,0.94,0.955,0.97,0.975],
[0.87,0.87,0.88,0.885,0.885,0.88,0.88,0.89,0.905,0.93,0.965,0.97],
[0.78,0.765,0.775,0.79,0.8,0.8,0.79,0.81,0.865,0.9,0.94,0.955],
[0.895,0.865,0.84,0.775,0.72,0.71,0.7,0.69,0.81,0.88,0.94,0.96],
[0.86,0.85,0.84,0.83,0.83,0.83,0.81,0.8,0.83,0.88,0.94,0.96],
[0.84,0.8,0.79,0.8,0.8,0.79,0.79,0.79,0.83,0.88,0.935,0.955],
[0.89,0.865,0.81,0.745,0.725,0.71,0.675,0.65,0.82,0.915,0.95,0.96],
[0.88,0.86,0.84,0.83,0.83,0.82,0.81,0.81,0.84,0.89,0.945,0.96],
[0.82,0.79,0.78,0.79,0.8,0.8,0.79,0.79,0.82,0.87,0.93,0.95],
[0.83,0.79,0.79,0.785,0.775,0.765,0.755,0.77,0.83,0.88,0.925,0.95],
[0.86,0.82,0.8,0.8,0.8,0.8,0.79,0.8,0.84,0.89,0.935,0.955],
[0.9,0.88,0.89,0.89,0.89,0.89,0.885,0.88,0.89,0.92,0.95,0.96]];

// ---------------- STYLES / LAYOUT ----------------
const seriesColors = ['#ff0000','#008000','#008000','#008000','#0000ff','#0000ff','#0000ff','#ffa500','#ffa500','#ffa500','#ff00ff','#ff00ff','#ff00ff','#00ffff','#00ffff','#808000'];
const DASHED = [9,4], DOTTED = [2.5,3.5];
const seriesDash = [[],[],DASHED,DOTTED,[],DASHED,DOTTED,[],DASHED,DOTTED,[],DASHED,DOTTED,[],DASHED,[]];

const panels = [
  [R1_T,R1_U,R1_V,R1_Q],[R2_T,R2_U,R2_V,R2_Q],[R3_T,R3_U,R3_V,R3_Q],
  [R4_T,R4_U,R4_V,R4_Q],[R5_T,R5_U,R5_V,R5_Q],[R6_T,R6_U,R6_V,R6_Q]];
const panelLevels = panels.map((row,r)=>row.map((p,c)=> (c===0 && (r===4||r===5)) ? levelsWith250 : levels));

const colLeft = [156,649,1142,1636];
const rowTop = [70,526,984,1441,1901,2362];
const plotW = 394, plotH = 403;
const AX_L = 64, AX_B = 44, PAD_T = 14, PAD_R = 28;

const fig = document.getElementById('fig');
function fmtX(v){ return (Math.round(v*10)/10).toFixed(1).replace('-', '\u2212'); }

const framePlugin = {
  id:'frame',
  afterDraw(chart){
    const {ctx, chartArea:a} = chart;
    ctx.save(); ctx.setLineDash([]);
    ctx.strokeStyle = '#8c8c8c'; ctx.lineWidth = 2.5;
    ctx.strokeRect(a.left, a.top, a.right-a.left, a.bottom-a.top);
    ctx.restore();
  }
};

const tickFont = {family:"'DejaVu Sans', sans-serif", size:19};
const gridOpts = {color:'#c4c4c4', lineWidth:1.4, tickColor:'#666', tickLength:5, tickWidth:1.5};

for (let r=0;r<6;r++){
  for (let c=0;c<4;c++){
    const cv = document.createElement('canvas');
    const W = AX_L+plotW+PAD_R, H = PAD_T+plotH+AX_B;
    cv.width = W; cv.height = H;
    cv.style.width = W+'px'; cv.style.height = H+'px';
    cv.style.left = (colLeft[c]-AX_L)+'px';
    cv.style.top = (rowTop[r]-PAD_T)+'px';
    fig.appendChild(cv);
    const rows = panels[r][c], lv = panelLevels[r][c];
    const datasets = [];
    datasets.push({data: zeroLineY.map(y=>({x:zeroLineX, y})), borderColor:'#000', borderWidth:2, borderDash:[8,5], order:100, tension:0});
    rows.forEach((vals,i)=>{
      datasets.push({data: lv.map((p,k)=>({x: vals[k], y: p})), borderColor: seriesColors[i], borderWidth: 2.4, borderDash: seriesDash[i], order: 50-i, tension: 0.15});
    });
    if (r===2 && c===3){
      datasets.push({data: highlightBoxX.map((x,k)=>({x, y: highlightBoxY[k]})), borderColor:'#0000ff', borderWidth:6, borderDash:[24,12], order:-1, tension:0});
    }
    datasets.forEach(d=>{ d.showLine = true; d.pointRadius = 0; d.fill = false; });
    new Chart(cv, {
      type:'scatter',
      data:{datasets},
      options:{
        responsive:false, animation:false, devicePixelRatio:1, events:[],
        layout:{padding:{top:PAD_T, right:PAD_R, left:0, bottom:0}},
        plugins:{legend:{display:false}, tooltip:{enabled:false}},
        scales:{
          x:{type:'linear', min:-0.2, max:1.0,
             afterBuildTicks: s=>{ s.ticks = xTickValues.map(v=>({value:v})); },
             afterFit: s=>{ s.height = AX_B; },
             ticks:{callback: v=>fmtX(v), font:tickFont, color:'#222', padding:3, maxRotation:0, autoSkip:false},
             grid:gridOpts, border:{display:false, dash:[3,3]}},
          y:{type:'linear', reverse:true, min:200, max:1000,
             afterBuildTicks: s=>{ s.ticks = yTickValues.map(v=>({value:v})); },
             afterFit: s=>{ s.width = AX_L; },
             ticks:{callback: v=>String(v), font:tickFont, color:'#222', padding:3, autoSkip:false},
             grid:gridOpts, border:{display:false, dash:[3,3]}}
        }
      },
      plugins:[framePlugin]
    });
  }
}

// ---------------- TEXT OVERLAY + LEGEND ----------------
const ov = document.createElement('canvas');
ov.width = 2067; ov.height = 3147;
ov.style.left = '0px'; ov.style.top = '0px'; ov.style.width='2067px'; ov.style.height='3147px';
ov.style.pointerEvents = 'none';
fig.appendChild(ov);
const g = ov.getContext('2d');
g.fillStyle = '#000';
g.textAlign = 'center'; g.textBaseline = 'middle';
g.font = "45px 'Liberation Sans', Arial, sans-serif";
variableTitles.forEach((t,c)=> g.fillText(t, colLeft[c]+plotW/2, 38));

g.font = "57px 'Liberation Sans', Arial, sans-serif";
g.fillText('Correlation coefficient', 1082, 2828);
g.save(); g.translate(40, 1315); g.rotate(-Math.PI/2); g.fillText('Pressure [hPa]', 0, 0); g.restore();

g.textAlign = 'left'; g.textBaseline = 'alphabetic';
g.font = "56px 'Liberation Sans', Arial, sans-serif";
regionLabels.forEach((t,r)=>{
  g.save(); g.translate(colLeft[0]+8, rowTop[r]+386); g.scale(0.81,1); g.fillText(t,0,0); g.restore();
});

const legendColX = [392, 860, 1300];
const legendRowY = [2882, 2924, 2968, 3010, 3054, 3096];
g.font = "32px 'Liberation Serif', 'Times New Roman', serif";
g.textBaseline = 'middle';
seriesNames.forEach((name,i)=>{
  const col = Math.floor(i/6), row = i%6;
  const x = legendColX[col], y = legendRowY[row];
  g.save();
  g.strokeStyle = seriesColors[i]; g.lineWidth = 2.4; g.setLineDash(seriesDash[i]);
  g.beginPath(); g.moveTo(x, y); g.lineTo(x+76, y); g.stroke();
  g.restore();
  g.fillStyle = '#000';
  g.fillText(name, x+90, y+1);
});
g.fillStyle = '#000';
g.fillRect(1367, legendRowY[4]-1, 2, 2);
</script></body></html>
